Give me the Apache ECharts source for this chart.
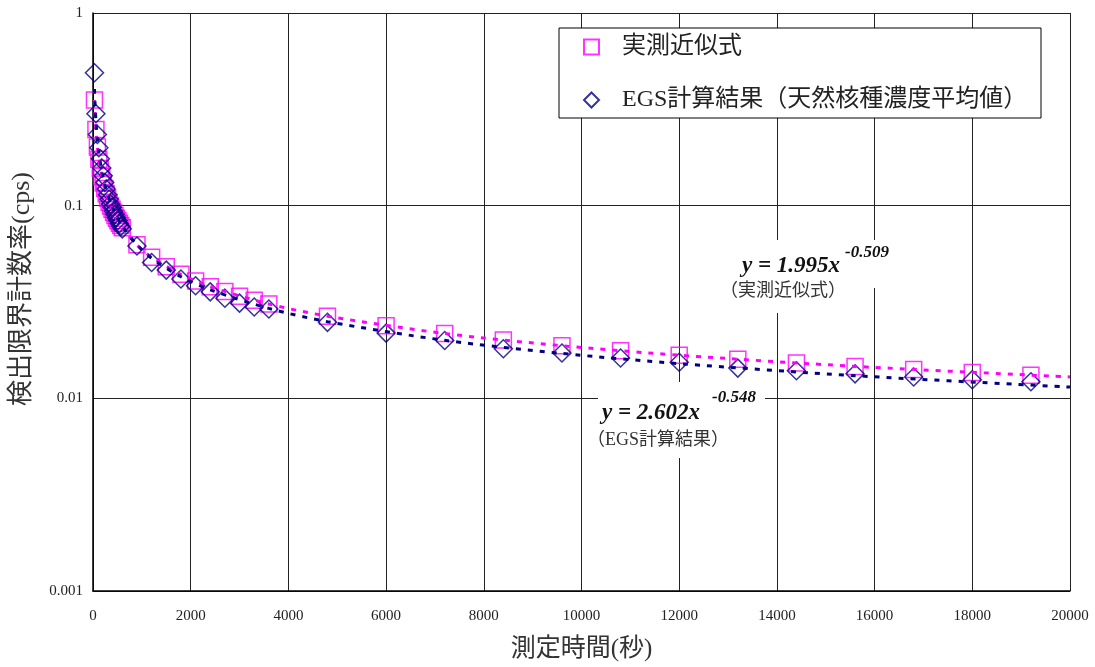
<!DOCTYPE html>
<html><head><meta charset="utf-8">
<script src="https://cdn.jsdelivr.net/npm/echarts@6/dist/echarts.min.js"></script>
<style>html,body{margin:0;padding:0;background:#fff}#c{width:1095px;height:667px}</style>
</head><body><div id="c"></div>
<script>
// measurement times (s)
const times = [30,60,90,120,150,180,210,240,270,300,330,360,390,420,450,480,510,540,570,600,
  900,1200,1500,1800,2100,2400,2700,3000,3300,3600,
  4800,6000,7200,8400,9600,10800,12000,13200,14400,15600,16800,18000,19200];
// 実測近似式 values (cps)
const measuredValues = [0.3534,0.2482,0.2019,0.1744,0.1557,0.1419,0.1312,0.1226,0.1154,0.1094,0.1042,0.0997,0.0957,0.0922,0.0890,0.0861,0.0835,0.0811,0.0789,0.0769,
  0.0626,0.0540,0.0482,0.0440,0.0406,0.0380,0.0358,0.0339,0.0323,0.0309,
  0.0267,0.0238,0.0217,0.0201,0.01875,0.01766,0.01674,0.01594,0.01525,0.01465,0.01410,0.01362,0.01318];
// EGS計算結果 values (cps)
const egsValues = [0.49,0.30,0.234,0.20,0.175,0.157,0.143,0.132,0.122,0.114,0.108,0.102,0.098,0.0936,0.090,0.0865,0.0838,0.0807,0.0782,0.0758,
  0.0618,0.0507,0.0463,0.0416,0.0384,0.0357,0.0331,0.0312,0.0298,0.0291,
  0.0248,0.0218,0.01995,0.0181,0.0172,0.0162,0.0154,0.01435,0.0139,0.0134,0.0129,0.0125,0.0122];
// trend lines (power fits)
const trendTimes = [30,45,60,90,120,180,240,360,480,600,900,1200,1800,2400,3600,4800,7200,9600,12000,15600,20000];
const trendMeasured = [0.3534,0.2874,0.2482,0.2019,0.1744,0.1419,0.1226,0.0997,0.0861,0.0769,0.0626,0.0540,0.0440,0.0380,0.0309,0.0267,0.0217,0.01875,0.01674,0.01465,0.01291];
const trendEgs = [0.4035,0.3231,0.2760,0.2210,0.1888,0.1512,0.1291,0.1034,0.0883,0.0781,0.0626,0.0534,0.0428,0.0366,0.0293,0.0250,0.0200,0.01710,0.01514,0.01311,0.01144];
const yTickLabels = {'0.001':'0.001','0.01':'0.01','0.1':'0.1','1':'1'};
const seriesNames = ['実測近似式','EGS計算結果（天然核種濃度平均値）'];

const serif = "'Liberation Serif','Noto Sans CJK JP',serif";
const pair = (xs, ys) => xs.map((x, i) => [x, ys[i]]);

const chart = echarts.init(document.getElementById('c'));
chart.setOption({
  animation: false,
  backgroundColor: '#fff',
  grid: {left: 93, right: 25, top: 13, bottom: 74, containLabel: false},
  xAxis: {
    type: 'value', min: 0, max: 20000, interval: 2000,
    axisLine: {show: true, lineStyle: {color: '#000', width: 1.5}},
    axisTick: {show: false},
    splitLine: {show: true, lineStyle: {color: '#222', width: 1}},
    axisLabel: {margin: 18, fontFamily: serif, fontSize: 15, color: '#222', formatter: v => String(v)},
    name: '測定時間(秒)', nameLocation: 'middle', nameGap: 46,
    nameTextStyle: {fontFamily: serif, fontSize: 25, color: '#333'}
  },
  yAxis: {
    type: 'log', logBase: 10, min: 0.001, max: 1,
    axisLine: {show: true, lineStyle: {color: '#000', width: 1.5}},
    axisTick: {show: false},
    splitLine: {show: true, lineStyle: {color: '#222', width: 1}},
    axisLabel: {margin: 10, fontFamily: serif, fontSize: 15, color: '#222',
      formatter: v => { const k = String(Number(v.toPrecision(1))); return yTickLabels[k] || k; }}
  },
  legend: {
    data: seriesNames, orient: 'vertical', left: 583, top: 35, itemGap: 29, padding: 0,
    itemWidth: 15, itemHeight: 15, z: 101, selectedMode: false,
    textStyle: {fontFamily: serif, fontSize: 24, color: '#222', padding: [0, 0, 0, 18]}
  },
  graphic: [
    {type: 'rect', z: 100, shape: {x: 559, y: 28, width: 482, height: 90}, style: {fill: '#fff', stroke: '#000', lineWidth: 1}},
    {type: 'rect', z: 100, shape: {x: 735, y: 240, width: 165, height: 48}, style: {fill: '#fff'}},
    {type: 'rect', z: 100, shape: {x: 705, y: 278, width: 157, height: 35}, style: {fill: '#fff'}},
    {type: 'rect', z: 100, shape: {x: 598, y: 382, width: 167, height: 43}, style: {fill: '#fff'}},
    {type: 'rect', z: 100, shape: {x: 585, y: 425, width: 150, height: 33}, style: {fill: '#fff'}},
    {type: 'text', z: 101, x: 742, y: 266, style: {text: 'y = 1.995x', font: "italic bold 23px 'Liberation Serif'", fill: '#111', textAlign: 'left', textVerticalAlign: 'middle'}},
    {type: 'text', z: 101, x: 845, y: 253, style: {text: '-0.509', font: "italic bold 17px 'Liberation Serif'", fill: '#111', textAlign: 'left', textVerticalAlign: 'middle'}},
    {type: 'text', z: 101, x: 783, y: 291, style: {text: '（実測近似式）', font: "18px 'Liberation Serif','Noto Sans CJK JP'", fill: '#333', textAlign: 'center', textVerticalAlign: 'middle'}},
    {type: 'text', z: 101, x: 602, y: 413, style: {text: 'y = 2.602x', font: "italic bold 23px 'Liberation Serif'", fill: '#111', textAlign: 'left', textVerticalAlign: 'middle'}},
    {type: 'text', z: 101, x: 712, y: 398, style: {text: '-0.548', font: "italic bold 17px 'Liberation Serif'", fill: '#111', textAlign: 'left', textVerticalAlign: 'middle'}},
    {type: 'text', z: 101, x: 658, y: 440, style: {text: '（EGS計算結果）', font: "18px 'Liberation Serif','Noto Sans CJK JP'", fill: '#333', textAlign: 'center', textVerticalAlign: 'middle'}},
    {type: 'text', z: 101, x: 22, y: 289, rotation: Math.PI / 2, style: {text: '検出限界計数率(cps)', font: "26px 'Liberation Serif','Noto Sans CJK JP'", fill: '#333', textAlign: 'center', textVerticalAlign: 'middle'}}
  ],
  series: [
    {name: seriesNames[0], type: 'scatter', data: pair(times, measuredValues), symbol: 'rect', symbolSize: 16, z: 2,
      itemStyle: {color: 'rgba(255,255,255,0)', borderColor: '#ff00ff', borderWidth: 1.5}},
    {name: seriesNames[1], type: 'scatter', data: pair(times, egsValues), symbol: 'diamond', symbolSize: 18, z: 3,
      itemStyle: {color: 'rgba(255,255,255,0)', borderColor: '#000080', borderWidth: 1.5}},
    {name: 'trend-measured', type: 'line', data: pair(trendTimes, trendMeasured), showSymbol: false, smooth: 0.3, z: 4, silent: true,
      lineStyle: {color: '#ff00ff', width: 3, type: [5, 7]}},
    {name: 'trend-egs', type: 'line', data: pair(trendTimes, trendEgs), showSymbol: false, smooth: 0.3, z: 4, silent: true,
      lineStyle: {color: '#000080', width: 3, type: [5, 7]}}
  ]
});
</script></body></html>
